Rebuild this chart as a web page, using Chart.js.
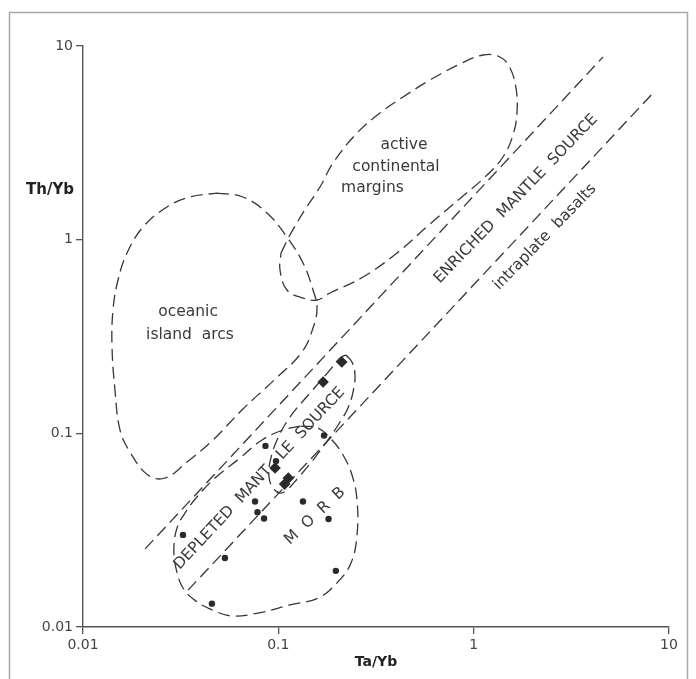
<!DOCTYPE html>
<html>
<head>
<meta charset="utf-8">
<title>Th/Yb vs Ta/Yb</title>
<script src="https://cdn.jsdelivr.net/npm/chart.js@4.4.1/dist/chart.umd.min.js"></script>
<style>
  html, body { margin: 0; padding: 0; background: #fff; }
  #wrap { width: 696px; height: 679px; }
</style>
</head>
<body>
<div id="wrap"><canvas id="chart" width="696" height="679"></canvas></div>
<script>
/* globals Chart */
// log axes, one label per decade
const xTicks = [0.01, 0.1, 1, 10];
const xTickLabels = ['0.01', '0.1', '1', '10'];
const yTicks = [0.01, 0.1, 1, 10];
const yTickLabels = ['0.01', '0.1', '1', '10'];

// samples (Ta/Yb, Th/Yb)
const circleTa = [0.0325, 0.0533, 0.0457, 0.0859, 0.0973, 0.0760, 0.0782, 0.0845, 0.1337, 0.1807, 0.1714, 0.197];
const circleTh = [0.0299, 0.0227, 0.0132, 0.0861, 0.0719, 0.0445, 0.0391, 0.0363, 0.0445, 0.0361, 0.0975, 0.0195];
const diamondTa = [0.2113, 0.1695, 0.0962, 0.1077, 0.1125];
const diamondTh = [0.2335, 0.184, 0.0662, 0.0547, 0.0588];

// mantle array boundaries
const mantleUpper = [[0.0208, 0.0253], [4.59, 8.77]];
const mantleLower = [[0.0345, 0.0155], [8.48, 5.86]];

// field outlines
const oceanicArcs = [
  [0.0485, 1.741], [0.0659, 1.661], [0.0875, 1.373], [0.1107, 1.032], [0.1338, 0.758],
  [0.1505, 0.550], [0.1578, 0.444], [0.1505, 0.350], [0.1322, 0.263], [0.0939, 0.186],
  [0.0659, 0.1336], [0.0463, 0.0924], [0.0341, 0.0711], [0.0263, 0.0588], [0.0215, 0.0609],
  [0.0174, 0.0801], [0.01547, 0.104], [0.01458, 0.1674], [0.01408, 0.2791], [0.01424, 0.4333],
  [0.01511, 0.619], [0.0168, 0.853], [0.0203, 1.163], [0.0269, 1.475], [0.0353, 1.661],
  [0.0485, 1.741]
];
const activeMargins = [
  [0.1032, 0.853], [0.1147, 1.057], [0.1386, 1.457], [0.1634, 1.870], [0.1905, 2.488],
  [0.2528, 3.554], [0.3315, 4.508], [0.4346, 5.452], [0.5977, 6.674], [0.8513, 8.072],
  [1.116, 8.984], [1.364, 8.772], [1.535, 7.698], [1.647, 6.069], [1.667, 4.562],
  [1.590, 3.470], [1.413, 2.672], [1.143, 2.107], [0.882, 1.680], [0.5977, 1.205],
  [0.4051, 0.8533], [0.2714, 0.6415], [0.1838, 0.5303], [0.1578, 0.488], [0.1338, 0.4997],
  [0.1107, 0.5496], [0.102, 0.6973], [0.1032, 0.853]
];
const morbField = [
  [0.1291, 0.1091], [0.1057, 0.104], [0.0825, 0.0924], [0.0637, 0.0746], [0.0474, 0.0588],
  [0.0383, 0.0469], [0.0333, 0.0388], [0.0303, 0.0325], [0.0292, 0.0256], [0.0299, 0.0202],
  [0.0325, 0.0159], [0.0379, 0.0136], [0.0463, 0.0122], [0.0579, 0.0114], [0.0787, 0.0118],
  [0.1147, 0.013], [0.1596, 0.0141], [0.1997, 0.0169], [0.2355, 0.0214], [0.2528, 0.0299],
  [0.2528, 0.0453], [0.2383, 0.0609], [0.2144, 0.0773], [0.1883, 0.0924], [0.1596, 0.1065],
  [0.1291, 0.1091]
];
const depletedField = [
  [0.222, 0.2538], [0.2383, 0.2335], [0.2469, 0.2001], [0.2411, 0.1634], [0.2273, 0.1352],
  [0.2069, 0.1144], [0.1796, 0.0924], [0.1505, 0.0728], [0.1261, 0.0588], [0.1107, 0.051],
  [0.102, 0.0492], [0.0939, 0.0522], [0.0896, 0.0595], [0.0906, 0.0711], [0.0985, 0.0924],
  [0.1147, 0.1214], [0.1453, 0.1615], [0.1838, 0.2123], [0.2069, 0.2449], [0.222, 0.2538]
];

// field names, anchored at (Ta/Yb, Th/Yb)
const fieldLabels = [
  { text: 'oceanic', x: 0.0345, y: 0.423, rot: 0 },
  { text: 'island  arcs', x: 0.0353, y: 0.322, rot: 0 },
  { text: 'active', x: 0.4397, y: 3.083, rot: 0 },
  { text: 'continental', x: 0.4003, y: 2.372, rot: 0 },
  { text: 'margins', x: 0.3034, y: 1.848, rot: 0 },
  { text: 'ENRICHED  MANTLE  SOURCE', x: 1.647, y: 1.622, rot: -46 },
  { text: 'intraplate  basalts', x: 2.318, y: 1.032, rot: -46 },
  { text: 'DEPLETED  MANT   LE  SOURCE', x: 0.0801, y: 0.0584, rot: -47 },
  { text: 'M  O  R  B', x: 0.1541, y: 0.0374, rot: -43 }
];

const pts = (arr) => arr.map(([x, y]) => ({ x, y }));
const zipPts = (xs, ys) => xs.map((x, i) => ({ x, y: ys[i] }));

const INK = '#363636';

function field(data, tension) {
  return {
    data: pts(data),
    showLine: true,
    borderColor: INK,
    borderWidth: 1.3,
    borderDash: [12, 6],
    tension: tension,
    pointRadius: 0,
    fill: false
  };
}

const paper = {
  id: 'paper',
  beforeDraw(chart) {
    const { ctx, width, height } = chart;
    ctx.save();
    ctx.fillStyle = '#fff';
    ctx.fillRect(0, 0, width, height);
    ctx.strokeStyle = '#a8a8a8';
    ctx.lineWidth = 1.5;
    ctx.strokeRect(9.5, 12.5, 678, height);
    ctx.restore();
  }
};

const textLayer = {
  id: 'textLayer',
  afterDatasetsDraw(chart) {
    const { ctx, scales: { x, y } } = chart;
    ctx.save();
    ctx.fillStyle = '#3a3a3a';
    ctx.textAlign = 'center';
    ctx.textBaseline = 'middle';
    ctx.font = '15.5px "DejaVu Sans"';
    for (const l of fieldLabels) {
      ctx.save();
      ctx.translate(x.getPixelForValue(l.x), y.getPixelForValue(l.y));
      ctx.rotate(l.rot * Math.PI / 180);
      ctx.fillText(l.text, 0, 0);
      ctx.restore();
    }
    // y title sits flat, left of the axis
    ctx.font = 'bold 15px "DejaVu Sans"';
    ctx.fillStyle = '#222';
    ctx.fillText('Th/Yb', 50, 190);
    ctx.restore();
  }
};

function logAxis(ticks, labels, isX) {
  return {
    type: 'logarithmic',
    position: isX ? 'bottom' : 'left',
    min: 0.01,
    max: 10,
    afterBuildTicks: (s) => { s.ticks = ticks.map(v => ({ value: v })); },
    afterFit: (s) => { if (isX) s.height = 52; else s.width = 83; },
    ticks: {
      autoSkip: false,
      maxRotation: 0,
      padding: 3,
      color: '#444',
      font: { family: 'DejaVu Sans', size: 14 },
      callback: (v, i) => labels[i]
    },
    grid: { display: true, drawOnChartArea: false, drawTicks: true, tickLength: 7, color: '#555', lineWidth: 1.3 },
    border: { display: true, color: '#555', width: 1.4 },
    title: isX
      ? { display: true, text: 'Ta/Yb', color: '#222', font: { family: 'DejaVu Sans', size: 14, weight: 'bold' }, padding: { top: 0, bottom: 8 } }
      : { display: false }
  };
}

new Chart(document.getElementById('chart').getContext('2d'), {
  type: 'scatter',
  data: {
    datasets: [
      field(oceanicArcs, 0.4),
      field(activeMargins, 0.4),
      field(morbField, 0.4),
      field(depletedField, 0.4),
      field(mantleUpper, 0),
      field(mantleLower, 0),
      {
        data: zipPts(circleTa, circleTh),
        pointStyle: 'circle',
        pointRadius: 3.2,
        backgroundColor: '#2a2a2a',
        borderColor: '#2a2a2a',
        borderWidth: 0
      },
      {
        data: zipPts(diamondTa, diamondTh),
        pointStyle: 'rectRot',
        pointRadius: 5.8,
        backgroundColor: '#2a2a2a',
        borderColor: '#2a2a2a',
        borderWidth: 0
      }
    ]
  },
  options: {
    responsive: false,
    animation: false,
    events: [],
    devicePixelRatio: 1,
    layout: { padding: { left: 0, top: 46, right: 27, bottom: 0 } },
    plugins: { legend: { display: false }, tooltip: { enabled: false } },
    scales: {
      x: logAxis(xTicks, xTickLabels, true),
      y: logAxis(yTicks, yTickLabels, false)
    }
  },
  plugins: [paper, textLayer]
});
</script>
</body>
</html>
